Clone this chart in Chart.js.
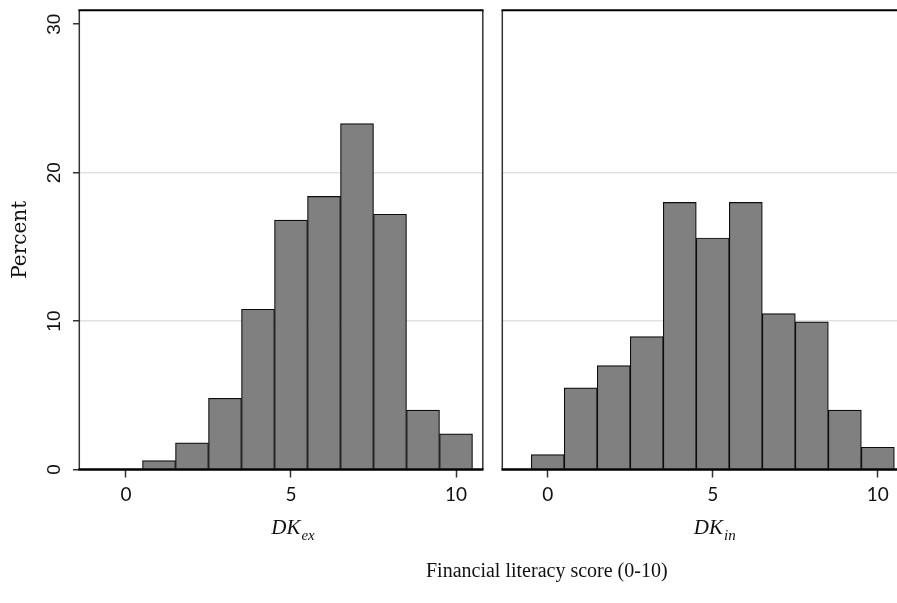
<!DOCTYPE html>
<html><head><meta charset="utf-8">
<script src="https://cdn.jsdelivr.net/npm/chart.js@4.4.1/dist/chart.umd.min.js"></script>
<style>
html,body{margin:0;padding:0;background:#fff;}
#wrap{position:relative;width:897px;height:603px;background:#fff;overflow:hidden;}
canvas{position:absolute;left:0;top:0;}
</style></head><body>
<div id="wrap"><canvas id="a" width="897" height="603"></canvas><canvas id="b" width="897" height="603"></canvas></div>
<script>
// ---- data ----
const scores = [0, 1, 2, 3, 4, 5, 6, 7, 8, 9, 10];
const dkExPercent = [0, 0.6, 1.8, 4.8, 10.8, 16.8, 18.4, 23.3, 17.2, 4.0, 2.4];
const dkInPercent = [1.0, 5.5, 7.0, 8.95, 18.0, 15.6, 18.0, 10.5, 9.95, 4.0, 1.5];
const xTickValues = [0, 5, 10];
const yTickValues = [0, 10, 20, 30];
const yGridValues = [10, 20];
const panelMain = ['DK', 'DK'];
const panelSub = ['ex', 'in'];
const xAxisTitle = 'Financial literacy score (0-10)';
const yAxisTitle = 'Percent';

Chart.defaults.devicePixelRatio = 1;

function framePlugin(drawRight) {
  return {
    id: 'frame',
    afterDatasetsDraw(chart) {
      const a = chart.chartArea, ctx = chart.ctx;
      ctx.save();
      ctx.lineCap = 'butt';
      ctx.strokeStyle = '#333'; ctx.lineWidth = 1.5;
      ctx.beginPath(); ctx.moveTo(a.left + 0.3, a.top); ctx.lineTo(a.left + 0.3, a.bottom); ctx.stroke();
      if (drawRight) { ctx.beginPath(); ctx.moveTo(a.right - 0.2, a.top); ctx.lineTo(a.right - 0.2, a.bottom); ctx.stroke(); }
      ctx.strokeStyle = '#000'; ctx.lineWidth = 2;
      ctx.beginPath(); ctx.moveTo(a.left - 0.5, a.top + 0.3); ctx.lineTo(a.right + 0.5, a.top + 0.3); ctx.stroke();
      ctx.lineWidth = 2.4;
      ctx.beginPath(); ctx.moveTo(a.left - 0.5, a.bottom); ctx.lineTo(a.right + 0.5, a.bottom); ctx.stroke();
      ctx.restore();
    }
  };
}

function drawSubLabel(ctx, cx, main, sub) {
  const mainFont = 'italic 21px "Liberation Serif"';
  const subFont = 'italic 15px "Liberation Serif"';
  ctx.font = mainFont; const w1 = ctx.measureText(main).width;
  ctx.font = subFont; const w2 = ctx.measureText(sub).width;
  const x0 = cx - (w1 + w2 + 1) / 2;
  ctx.fillStyle = '#111'; ctx.textAlign = 'left'; ctx.textBaseline = 'alphabetic';
  ctx.font = mainFont; ctx.fillText(main, x0, 534);
  ctx.font = subFont; ctx.fillText(sub, x0 + w1 + 1, 540);
}

function textPlugin(idx, withCommon) {
  return {
    id: 'texts' + idx,
    afterDraw(chart) {
      const ctx = chart.ctx, xs = chart.scales.x, ys = chart.scales.y;
      ctx.save();
      if (withCommon) {
        ctx.font = '19px "Liberation Sans"'; ctx.fillStyle = '#111';
        ctx.textAlign = 'center'; ctx.textBaseline = 'middle';
        ys.ticks.forEach(t => {
          const py = ys.getPixelForValue(t.value);
          ctx.save(); ctx.translate(55, py); ctx.rotate(-Math.PI / 2);
          ctx.fillText(String(t.value), 0, 0); ctx.restore();
        });
        ctx.font = '20px "Liberation Serif"'; ctx.textAlign = 'left'; ctx.textBaseline = 'alphabetic';
        ctx.fillText(xAxisTitle, 426, 577);
      }
      drawSubLabel(ctx, xs.getPixelForValue(5) + 2, panelMain[idx], panelSub[idx]);
      ctx.restore();
    }
  };
}

function makePanel(id, values, idx, opts) {
  return new Chart(document.getElementById(id), {
    type: 'bar',
    data: {
      datasets: [{
        data: scores.map((s, i) => ({ x: s, y: values[i] })),
        backgroundColor: '#808080', borderColor: '#0d0d0d', borderWidth: 1.2,
        borderSkipped: 'start', barPercentage: 1, categoryPercentage: 1
      }]
    },
    options: {
      responsive: false, animation: false, devicePixelRatio: 1,
      layout: { padding: opts.padding },
      plugins: { legend: { display: false }, tooltip: { enabled: false } },
      scales: {
        x: {
          type: 'linear', min: opts.xmin, max: opts.xmax, offset: false,
          afterBuildTicks: s => { s.ticks = xTickValues.map(v => ({ value: v })); },
          afterFit: s => { s.height = 133.5; },
          grid: { offset: false, drawOnChartArea: false, drawTicks: true, tickLength: 8, tickColor: '#333', tickWidth: 1.5 },
          border: { display: false },
          ticks: { padding: 6, color: '#111', font: { family: 'Lato', size: 19 }, maxRotation: 0, autoSkip: false }
        },
        y: {
          min: 0, max: 30.96,
          afterBuildTicks: s => { s.ticks = yTickValues.map(v => ({ value: v })); },
          afterFit: s => { s.width = opts.yWidth; },
          grid: {
            color: c => (c.tick && yGridValues.includes(c.tick.value)) ? '#e2e2e2' : 'rgba(0,0,0,0)',
            lineWidth: 1.5, drawTicks: opts.yTicks, tickLength: 6, tickColor: '#333', tickWidth: 1.5
          },
          border: { display: false },
          ticks: { display: false },
          title: {
            display: opts.yTicks, text: yAxisTitle, color: '#111',
            font: { family: 'DejaVu Serif', size: 20 }, padding: { top: 8.5, bottom: 0 }
          }
        }
      }
    },
    plugins: [framePlugin(opts.drawRight), textPlugin(idx, opts.yTicks)]
  });
}

makePanel('a', dkExPercent, 0, { padding: { left: 0, top: 10, right: 414, bottom: 0 }, xmin: -1.424, xmax: 10.818, yWidth: 79, yTicks: true, drawRight: true });
makePanel('b', dkInPercent, 1, { padding: { left: 502, top: 10, right: 0, bottom: 0 }, xmin: -1.385, xmax: 10.58, yWidth: 0, yTicks: false, drawRight: false });
</script>
</body></html>
